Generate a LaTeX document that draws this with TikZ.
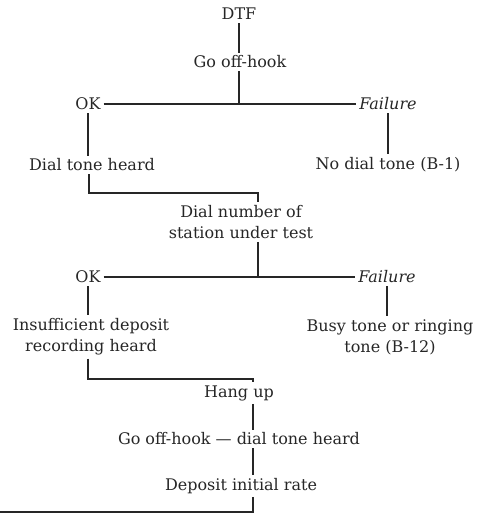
\documentclass[tikz,border=0pt]{standalone}
\usepackage{fontspec}
\setmainfont{DejaVu Serif}
\begin{document}
\begin{tikzpicture}[x=1pt,y=-1pt,
  t/.style={text=black!85, inner sep=3pt, font=\fontsize{16}{21}\selectfont},
  ln/.style={draw=black!85, line width=1.3pt}]
\useasboundingbox (0,0) rectangle (489,513);
\node[t] (dtf) at (239,14) {DTF};
\node[t] (goh) at (240,62) {Go off-hook};
\node[t] (ok1) at (88,104) {OK};
\node[t] (f1) at (388,104) {\textit{Failure}};
\node[t] (dth) at (92,165) {Dial tone heard};
\node[t] (ndt) at (388,165) {No dial tone (B-1)};
\node[t, align=center] (dn) at (241,222) {Dial number of\\station under test};
\node[t] (ok2) at (88,277) {OK};
\node[t] (f2) at (387,277) {\textit{Failure}};
\node[t,align=center] (ins) at (91,337) {Insufficient deposit\\recording heard};
\node[t,align=center] (busy) at (390,337) {Busy tone or ringing\\tone (B-12)};
\node[t] (hu) at (239,393) {Hang up};
\node[t] (goh2) at (239,439) {Go off-hook --- dial tone heard};
\node[t] (dep) at (241,486) {Deposit initial rate};
\coordinate (j1) at (239,104);
\coordinate (c1) at (89,193);
\coordinate (c2) at (258,193);
\coordinate (j2) at (258,277);
\coordinate (c3) at (88,379);
\coordinate (c4) at (253,379);
\coordinate (c5) at (253,512);
\coordinate (c6) at (0,512);
\draw[ln] (dtf.south) -- (dtf.south |- goh.north);
\draw[ln] (goh.south -| j1) -- (j1);
\draw[ln] (ok1) -- (f1);
\draw[ln] (ok1.south) -- (ok1.south |- dth.north);
\draw[ln] (f1.south) -- (f1.south |- ndt.north);
\draw[ln] (dth.south -| c1) -- (c1) -- (c2) -- (c2 |- dn.north);
\draw[ln] (dn.south -| c2) -- (j2);
\draw[ln] (ok2) -- (f2);
\draw[ln] (ok2.south) -- (ok2.south |- ins.north);
\draw[ln] (f2.south) -- (f2.south |- busy.north);
\draw[ln] (ins.south -| c3) -- (c3) -- (c4) -- (c4 |- hu.north);
\draw[ln] (hu.south -| c4) -- (c4 |- goh2.north);
\draw[ln] (goh2.south -| c4) -- (c4 |- dep.north);
\draw[ln] (dep.south -| c5) -- (c5) -- (c6);
\end{tikzpicture}
\end{document}
